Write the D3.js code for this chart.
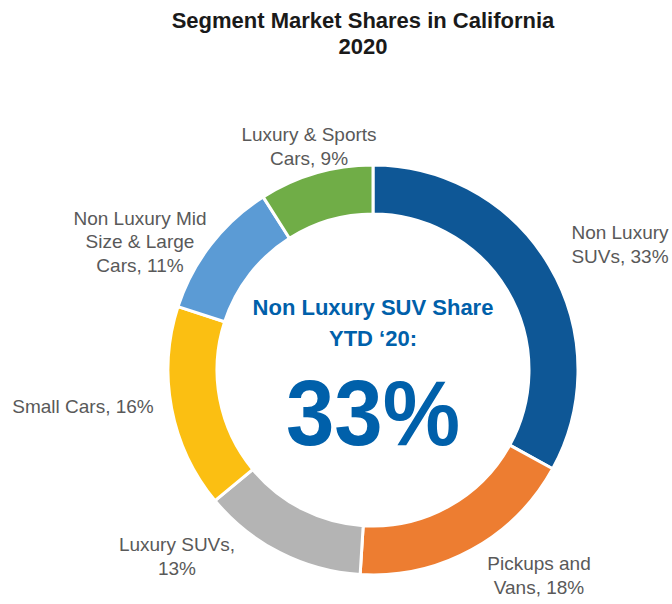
<!DOCTYPE html>
<html>
<head>
<meta charset="utf-8">
<script src="https://cdn.jsdelivr.net/npm/d3@7"></script>
<style>
  body { margin: 0; background: #fff; }
</style>
</head>
<body>
<div id="chart"></div>
<script>
const segments = ["Non Luxury SUVs", "Pickups and Vans", "Luxury SUVs", "Small Cars", "Non Luxury Mid Size & Large Cars", "Luxury & Sports Cars"];
const shares = [33, 18, 13, 16, 11, 9];
const labelLines = [
  ["Non Luxury", "SUVs, 33%"],
  ["Pickups and", "Vans, 18%"],
  ["Luxury SUVs,", "13%"],
  ["Small Cars, 16%"],
  ["Non Luxury Mid", "Size & Large", "Cars, 11%"],
  ["Luxury & Sports", "Cars, 9%"]
];
const colors = ["#0e5796", "#ed7d31", "#b4b4b4", "#fbbf12", "#5b9bd5", "#70ad47"];

// label block centres, as offset from donut centre (layout only)
const labelOffset = [[247, -126], [166, 205], [-196, 186], [-290, 36], [-233, -129], [-64, -224]];

const width = 672, height = 604;
const cx = 373, cy = 370;
const outerR = 205, innerR = 156;

const svg = d3.select("#chart").append("svg")
  .attr("width", width)
  .attr("height", height);

svg.append("text")
  .attr("x", 363).attr("y", 28)
  .attr("text-anchor", "middle")
  .style("font-family", "Liberation Sans, Arial, sans-serif")
  .style("font-weight", "bold")
  .style("font-size", "22px")
  .style("fill", "#1a1a1a")
  .text("Segment Market Shares in California");

svg.append("text")
  .attr("x", 363).attr("y", 54)
  .attr("text-anchor", "middle")
  .style("font-family", "Liberation Sans, Arial, sans-serif")
  .style("font-weight", "bold")
  .style("font-size", "22px")
  .style("fill", "#1a1a1a")
  .text("2020");

const data = segments.map((s, i) => ({ name: s, value: shares[i], i: i }));

const pie = d3.pie().sort(null).value(d => d.value);
const arc = d3.arc().innerRadius(innerR).outerRadius(outerR);

const g = svg.append("g").attr("transform", `translate(${cx},${cy})`);

g.selectAll("path")
  .data(pie(data))
  .enter().append("path")
  .attr("d", arc)
  .style("fill", d => colors[d.data.i])
  .style("stroke", "#fff")
  .style("stroke-width", 3);

const lineH = 23.5;
const labels = g.selectAll("text.lbl")
  .data(data)
  .enter().append("text")
  .attr("class", "lbl")
  .attr("text-anchor", "middle")
  .style("font-family", "Liberation Sans, Arial, sans-serif")
  .style("font-size", "19px")
  .style("fill", "#595959");

labels.each(function(d) {
  const lines = labelLines[d.i];
  const off = labelOffset[d.i];
  const top = off[1] - (lines.length - 1) * lineH / 2 + 7;
  d3.select(this).selectAll("tspan")
    .data(lines)
    .enter().append("tspan")
    .attr("x", off[0])
    .attr("y", (l, k) => top + k * lineH)
    .text(l => l);
});

// centre call-out
const blue = "#0060aa";
g.append("text")
  .attr("x", 0).attr("y", -55)
  .attr("text-anchor", "middle")
  .style("font-family", "Liberation Sans, Arial, sans-serif")
  .style("font-weight", "bold")
  .style("font-size", "22px")
  .style("fill", blue)
  .text("Non Luxury SUV Share");

g.append("text")
  .attr("x", 0).attr("y", -24)
  .attr("text-anchor", "middle")
  .style("font-family", "Liberation Sans, Arial, sans-serif")
  .style("font-weight", "bold")
  .style("font-size", "22px")
  .style("fill", blue)
  .text("YTD \u201820:");

g.append("text")
  .attr("x", 0).attr("y", 75)
  .attr("text-anchor", "middle")
  .style("font-family", "Liberation Sans, Arial, sans-serif")
  .style("font-weight", "bold")
  .style("font-size", "92px")
  .attr("textLength", 174)
  .attr("lengthAdjust", "spacingAndGlyphs")
  .style("fill", blue)
  .text(shares[0] + "%");
</script>
</body>
</html>
